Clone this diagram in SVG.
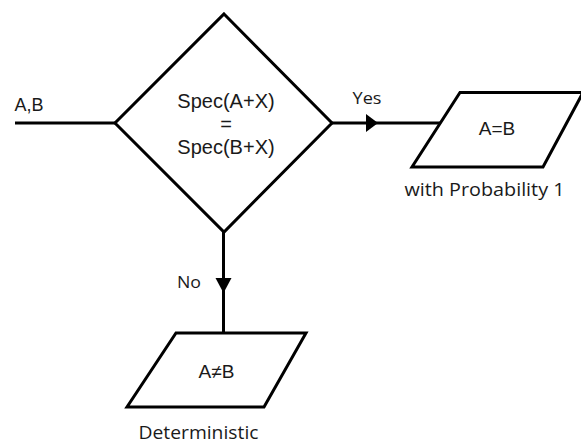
<svg xmlns="http://www.w3.org/2000/svg" width="581" height="444" viewBox="0 0 581 444">
<style>
.shape{fill:#fff;stroke:#000;stroke-width:3;stroke-linejoin:miter}
.line{fill:none;stroke:#000;stroke-width:3}
.arrow{fill:#000;stroke:none}
.t1{font-family:"Liberation Sans",Arial,sans-serif;fill:#1a1a1a;text-anchor:middle}
.t2{font-family:"Open Sans","Noto Sans",sans-serif;fill:#1a1a1a;text-anchor:middle}
</style>
<rect width="581" height="444" fill="#fff"/>
<g id="connectors">
<line class="line" x1="15" y1="123" x2="115" y2="123"/>
<line class="line" x1="331" y1="123" x2="441" y2="123"/>
<polygon class="arrow" points="366,114 378,123 366,132"/>
<line class="line" x1="223.5" y1="232" x2="223.5" y2="333"/>
<polygon class="arrow" points="215.5,278 231.5,278 223.5,293"/>
<text class="t1" x="29" y="110.5" font-size="18">A,B</text>
<text class="t2" x="367" y="103.5" font-size="16" textLength="29" lengthAdjust="spacingAndGlyphs">Yes</text>
<text class="t2" x="189" y="288" font-size="16" textLength="24" lengthAdjust="spacingAndGlyphs">No</text>
</g>
<g id="decision">
<polygon class="shape" points="224,14 332,123 224,232 115,123"/>
<text class="t1" x="226" y="107.5" font-size="20">Spec(A+X)</text>
<text class="t1" x="226" y="131" font-size="20">=</text>
<text class="t1" x="226" y="154" font-size="20">Spec(B+X)</text>
</g>
<g id="yes-output">
<polygon class="shape" points="460,92.5 583,92.5 543,167 412,167"/>
<text class="t1" x="497" y="135" font-size="19">A=B</text>
<text class="t2" x="484.5" y="195.5" font-size="19" textLength="160" lengthAdjust="spacingAndGlyphs">with Probability 1</text>
</g>
<g id="no-output">
<polygon class="shape" points="176,333 306,333 264,407 127,407"/>
<text class="t1" x="216.5" y="377.5" font-size="19">A≠B</text>
<text class="t2" x="198.5" y="438.5" font-size="19" textLength="120" lengthAdjust="spacingAndGlyphs">Deterministic</text>
</g>
</svg>
